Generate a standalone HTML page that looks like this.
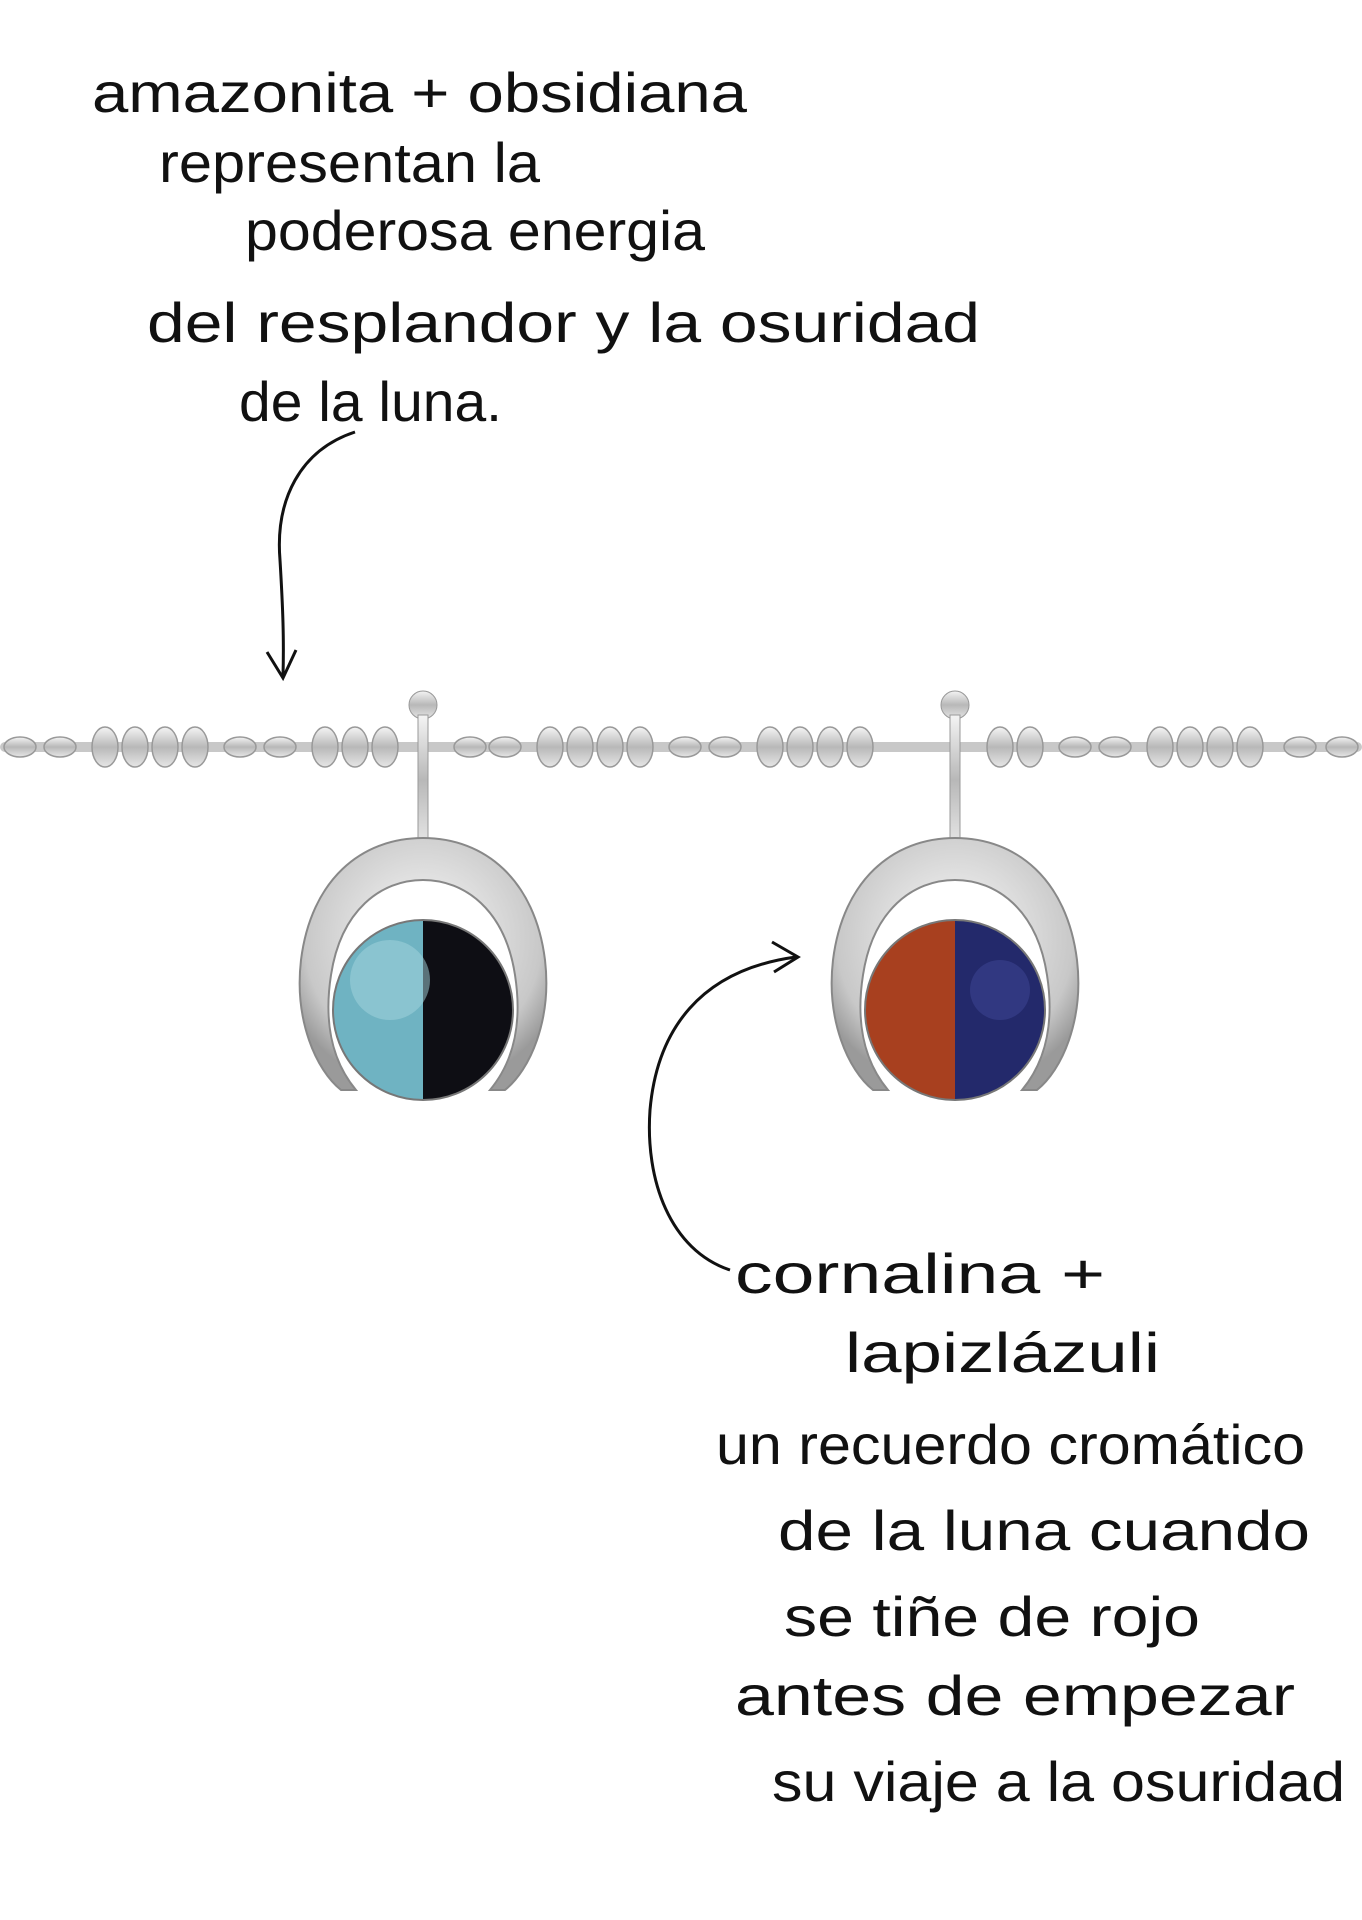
<!DOCTYPE html>
<html><head><meta charset="utf-8"><style>
html,body{margin:0;padding:0;background:#fff;width:1362px;height:1920px;overflow:hidden}
svg{display:block}
text{font-family:"Liberation Sans",sans-serif;font-size:56px;fill:#111;font-weight:300}
</style></head><body>
<svg width="1362" height="1920" viewBox="0 0 1362 1920" xmlns="http://www.w3.org/2000/svg">
<defs>
<linearGradient id="silver" x1="0" y1="0" x2="0" y2="1">
<stop offset="0" stop-color="#f4f4f4"/><stop offset="0.5" stop-color="#b8b8b8"/><stop offset="1" stop-color="#e6e6e6"/>
</linearGradient>
<radialGradient id="ring" cx="0.5" cy="0.4" r="0.6">
<stop offset="0" stop-color="#fafafa"/><stop offset="0.8" stop-color="#c8c8c8"/><stop offset="1" stop-color="#9a9a9a"/>
</radialGradient>
<clipPath id="c1"><circle cx="423" cy="1010" r="90"/></clipPath>
<clipPath id="c2"><circle cx="955" cy="1010" r="90"/></clipPath>
</defs>
<!-- top text -->
<text x="92" y="112" textLength="655" lengthAdjust="spacingAndGlyphs">amazonita + obsidiana</text>
<text x="159" y="182" textLength="381" lengthAdjust="spacingAndGlyphs">representan la</text>
<text x="245" y="250" textLength="460" lengthAdjust="spacingAndGlyphs">poderosa energia</text>
<text x="147" y="342" textLength="833" lengthAdjust="spacingAndGlyphs">del resplandor y la osuridad</text>
<text x="239" y="421" textLength="263" lengthAdjust="spacingAndGlyphs">de la luna.</text>
<!-- arrow 1 -->
<path d="M355 432 C300 450 275 500 280 560 C283 610 284 640 283 676" fill="none" stroke="#111" stroke-width="3"/>
<path d="M267 652 L283 678 L296 650" fill="none" stroke="#111" stroke-width="3"/>
<!-- chain -->
<g>
<rect x="0" y="742" width="1362" height="10" rx="5" fill="#c8c8c8"/>
<g fill="url(#silver)" stroke="#999" stroke-width="1.5">
<ellipse cx="20" cy="747" rx="16" ry="10"/><ellipse cx="60" cy="747" rx="16" ry="10"/>
<ellipse cx="105" cy="747" rx="13" ry="20"/><ellipse cx="135" cy="747" rx="13" ry="20"/><ellipse cx="165" cy="747" rx="13" ry="20"/><ellipse cx="195" cy="747" rx="13" ry="20"/>
<ellipse cx="240" cy="747" rx="16" ry="10"/><ellipse cx="280" cy="747" rx="16" ry="10"/>
<ellipse cx="325" cy="747" rx="13" ry="20"/><ellipse cx="355" cy="747" rx="13" ry="20"/><ellipse cx="385" cy="747" rx="13" ry="20"/>
<ellipse cx="470" cy="747" rx="16" ry="10"/><ellipse cx="505" cy="747" rx="16" ry="10"/>
<ellipse cx="550" cy="747" rx="13" ry="20"/><ellipse cx="580" cy="747" rx="13" ry="20"/><ellipse cx="610" cy="747" rx="13" ry="20"/><ellipse cx="640" cy="747" rx="13" ry="20"/>
<ellipse cx="685" cy="747" rx="16" ry="10"/><ellipse cx="725" cy="747" rx="16" ry="10"/>
<ellipse cx="770" cy="747" rx="13" ry="20"/><ellipse cx="800" cy="747" rx="13" ry="20"/><ellipse cx="830" cy="747" rx="13" ry="20"/><ellipse cx="860" cy="747" rx="13" ry="20"/>
<ellipse cx="1000" cy="747" rx="13" ry="20"/><ellipse cx="1030" cy="747" rx="13" ry="20"/>
<ellipse cx="1075" cy="747" rx="16" ry="10"/><ellipse cx="1115" cy="747" rx="16" ry="10"/>
<ellipse cx="1160" cy="747" rx="13" ry="20"/><ellipse cx="1190" cy="747" rx="13" ry="20"/><ellipse cx="1220" cy="747" rx="13" ry="20"/><ellipse cx="1250" cy="747" rx="13" ry="20"/>
<ellipse cx="1300" cy="747" rx="16" ry="10"/><ellipse cx="1342" cy="747" rx="16" ry="10"/>
</g>
</g>
<!-- pendant 1 -->
<g>
<ellipse cx="423" cy="705" rx="14" ry="14" fill="url(#silver)" stroke="#999"/>
<rect x="418" y="715" width="10" height="130" fill="url(#silver)" stroke="#999"/>
<path d="M423 838 C485 838 535 880 545 960 C552 1020 530 1070 505 1090 L490 1090 C515 1060 522 1020 515 975 C505 910 465 880 423 880 C381 880 341 910 331 975 C324 1020 331 1060 356 1090 L341 1090 C316 1070 294 1020 301 960 C311 880 361 838 423 838Z" fill="url(#ring)" stroke="#888" stroke-width="2"/>
<g clip-path="url(#c1)">
<rect x="333" y="920" width="90" height="180" fill="#6fb3c2"/>
<rect x="423" y="920" width="90" height="180" fill="#0e0e14"/>
<circle cx="390" cy="980" r="40" fill="#a6d6de" opacity="0.5"/>
</g>
<circle cx="423" cy="1010" r="90" fill="none" stroke="#777" stroke-width="2"/>
</g>
<!-- pendant 2 -->
<g>
<ellipse cx="955" cy="705" rx="14" ry="14" fill="url(#silver)" stroke="#999"/>
<rect x="950" y="715" width="10" height="130" fill="url(#silver)" stroke="#999"/>
<path d="M955 838 C1017 838 1067 880 1077 960 C1084 1020 1062 1070 1037 1090 L1022 1090 C1047 1060 1054 1020 1047 975 C1037 910 997 880 955 880 C913 880 873 910 863 975 C856 1020 863 1060 888 1090 L873 1090 C848 1070 826 1020 833 960 C843 880 893 838 955 838Z" fill="url(#ring)" stroke="#888" stroke-width="2"/>
<g clip-path="url(#c2)">
<rect x="865" y="920" width="90" height="180" fill="#a8401f"/>
<rect x="955" y="920" width="90" height="180" fill="#23296b"/>
<circle cx="1000" cy="990" r="30" fill="#3a4390" opacity="0.6"/>
</g>
<circle cx="955" cy="1010" r="90" fill="none" stroke="#777" stroke-width="2"/>
</g>
<!-- arrow 2 -->
<path d="M730 1270 C670 1250 645 1180 650 1110 C657 1030 700 970 796 957" fill="none" stroke="#111" stroke-width="3"/>
<path d="M772 942 L798 957 L774 972" fill="none" stroke="#111" stroke-width="3"/>
<!-- bottom text -->
<text x="735" y="1293" textLength="370" lengthAdjust="spacingAndGlyphs">cornalina +</text>
<text x="845" y="1372" textLength="315" lengthAdjust="spacingAndGlyphs">lapizlázuli</text>
<text x="716" y="1464" textLength="589" lengthAdjust="spacingAndGlyphs">un recuerdo cromático</text>
<text x="778" y="1550" textLength="532" lengthAdjust="spacingAndGlyphs">de la luna cuando</text>
<text x="784" y="1636" textLength="416" lengthAdjust="spacingAndGlyphs">se tiñe de rojo</text>
<text x="735" y="1715" textLength="560" lengthAdjust="spacingAndGlyphs">antes de empezar</text>
<text x="772" y="1801" textLength="573" lengthAdjust="spacingAndGlyphs">su viaje a la osuridad</text>
</svg>
</body></html>
